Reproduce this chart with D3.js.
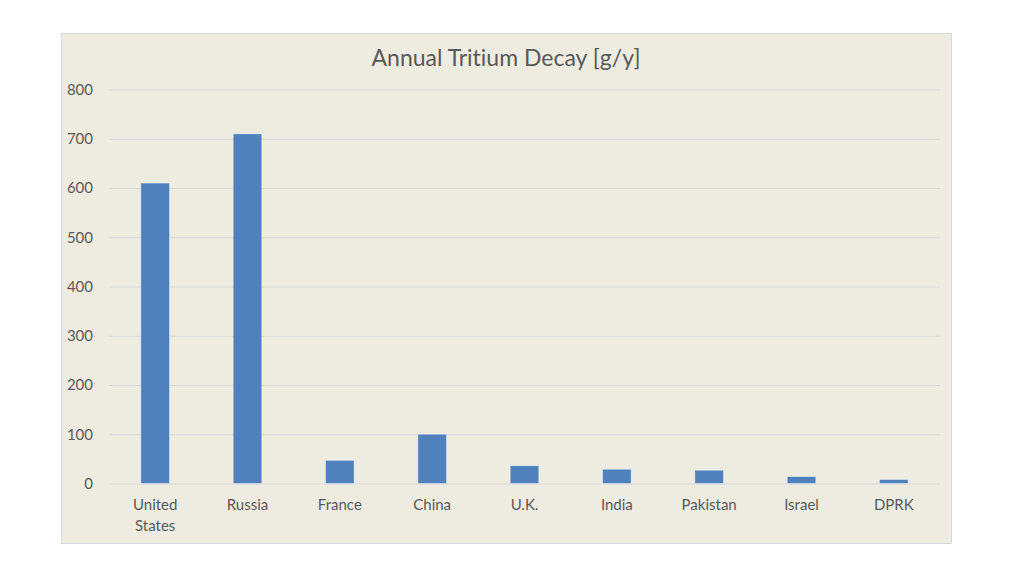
<!DOCTYPE html>
<html>
<head>
<meta charset="utf-8">
<script src="https://cdn.jsdelivr.net/npm/d3@7"></script>
<style>
  body { margin: 0; background: #fff; }
  svg text { font-family: Lato, "Open Sans", sans-serif; fill: #595959; font-variant-ligatures: none; }
</style>
</head>
<body>
<div id="chart"></div>
<script>
const countries = ["United States", "Russia", "France", "China", "U.K.", "India", "Pakistan", "Israel", "DPRK"];
const decay = [610, 710, 47, 100, 36, 29, 27, 14, 8];
const yTicks = [0, 100, 200, 300, 400, 500, 600, 700, 800];

const W = 1024, H = 576;
const box = {x: 61, y: 33, w: 890, h: 510};
const plot = {left: 109, right: 940, top: 89.5, bottom: 483.5};

const svg = d3.select("#chart")
    .append("svg")
    .attr("width", W)
    .attr("height", H);

svg.append("rect")
    .attr("x", box.x + 0.5).attr("y", box.y + 0.5)
    .attr("width", box.w).attr("height", box.h)
    .attr("fill", "#eeece1")
    .attr("stroke", "#d9d9d9");

svg.append("text")
    .attr("x", 506).attr("y", 66)
    .attr("text-anchor", "middle")
    .style("font-size", "23px")
    .text("Annual Tritium Decay [g/y]");

const x = d3.scaleBand()
    .domain(countries)
    .range([plot.left, plot.right])
    .paddingInner(0.69)
    .paddingOuter(0.345);

const y = d3.scaleLinear()
    .domain([0, 800])
    .range([plot.bottom, plot.top]);

// gridlines + y labels
const yAxis = svg.append("g")
    .attr("transform", "translate(" + plot.left + ",0)")
    .call(d3.axisLeft(y).tickValues(yTicks).tickSize(-(plot.right - plot.left)).tickPadding(16));
yAxis.select(".domain").remove();
yAxis.selectAll(".tick line").attr("stroke", "#d9d9d9");
yAxis.selectAll(".tick text").style("font-size", "15px").attr("fill", "#595959");

// bars
svg.append("g")
    .selectAll("rect")
    .data(decay)
    .enter()
    .append("rect")
    .attr("x", (d, i) => x(countries[i]))
    .attr("y", d => y(d))
    .attr("width", x.bandwidth())
    .attr("height", d => y(0) - y(d))
    .attr("fill", "#4f81bd")
    .attr("stroke", "#ffffff")
    .attr("stroke-opacity", 0.5)
    .attr("stroke-width", 0.8);

// x labels
const xAxis = svg.append("g")
    .attr("transform", "translate(0," + plot.bottom + ")")
    .call(d3.axisBottom(x).tickSize(0).tickPadding(16));
xAxis.select(".domain").remove();
xAxis.selectAll(".tick text")
    .style("font-size", "15px")
    .attr("fill", "#595959")
    .each(function(d) {
        const t = d3.select(this);
        const words = d.split(" ");
        if (words.length > 1) {
            t.text(null);
            words.forEach((w, k) => {
                t.append("tspan")
                    .attr("x", 0)
                    .attr("dy", k === 0 ? "0.71em" : "1.4em")
                    .text(w);
            });
        }
    });
</script>
</body>
</html>
